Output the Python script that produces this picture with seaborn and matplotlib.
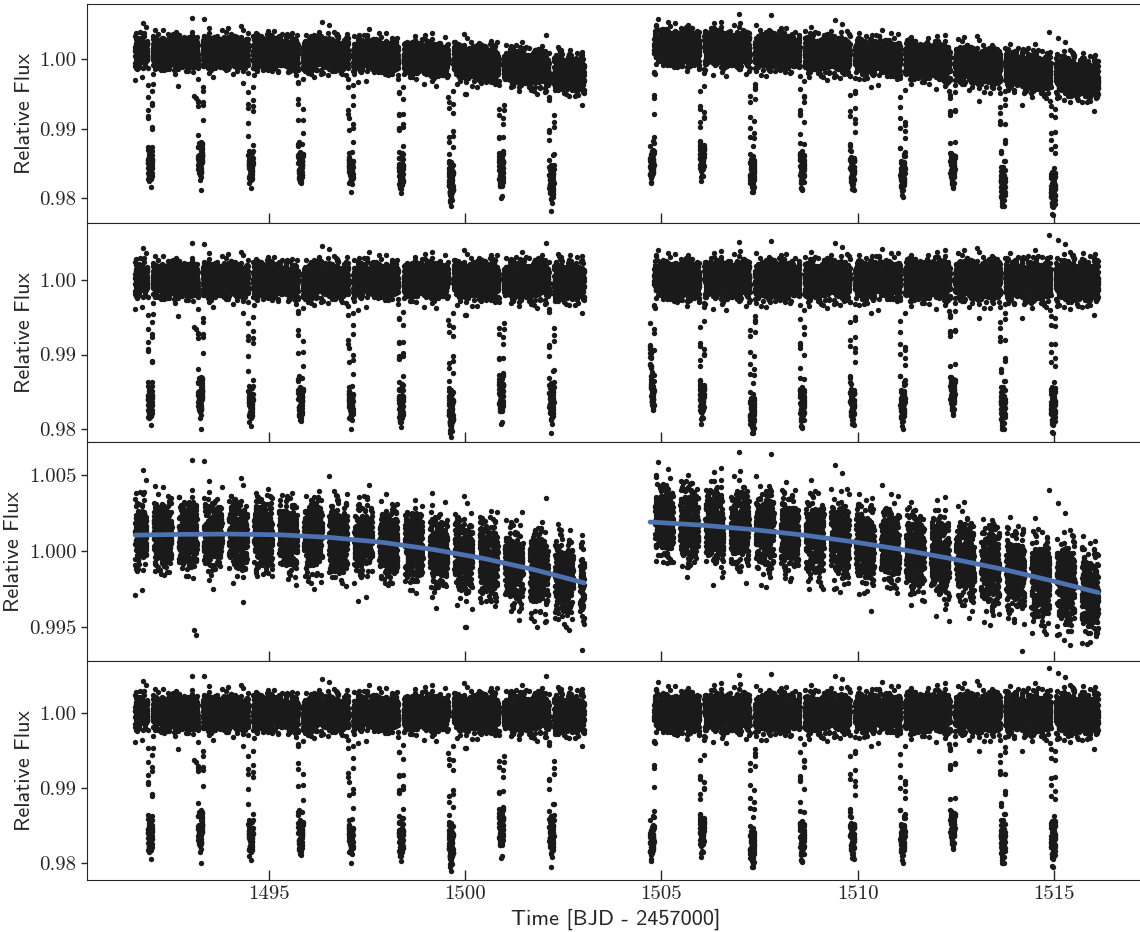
import numpy as np
import pandas as pd
import seaborn as sns
import matplotlib.pyplot as plt
from matplotlib.ticker import FuncFormatter
from statistics import NormalDist

# time coverage of the two orbits (BJD - 2457000)
seg_start = [1491.60, 1504.71]
seg_end = [1503.03, 1516.12]

# mid-transit times
transit_times = [1491.98, 1493.26, 1494.54, 1495.81, 1497.09, 1498.37, 1499.64, 1500.92, 1502.20,
                 1504.75, 1506.03, 1507.31, 1508.58, 1509.86, 1511.14, 1512.41, 1513.69, 1514.97]
# mean in-transit depth of each dip
transit_depths = [0.0167, 0.0160, 0.0165, 0.0165, 0.0165, 0.0166, 0.0178, 0.0157, 0.0165,
                  0.0169, 0.0160, 0.0177, 0.0165, 0.0164, 0.0167, 0.0155, 0.0168, 0.0172]
period = 1.2775
t14 = 0.13      # transit duration [d]
t_ing = 0.012   # ingress [d]
mask_half = 0.09  # half width of the gaps in the zoomed panel

# blue trend (third panel), one list per orbit
trend_t1 = [1491.60, 1492.80, 1494.00, 1495.30, 1496.60, 1497.90, 1499.20, 1500.50, 1501.80, 1503.03]
trend_f1 = [1.00104, 1.00109, 1.00111, 1.00106, 1.00088, 1.00056, 1.00009, 0.99949, 0.99874, 0.99790]
trend_t2 = [1504.71, 1506.00, 1507.30, 1508.60, 1509.85, 1511.10, 1512.40, 1513.70, 1515.00, 1516.12]
trend_f2 = [1.00190, 1.00170, 1.00141, 1.00105, 1.00061, 1.00010, 0.99948, 0.99879, 0.99800, 0.99726]

# baseline the second panel used at the start of orbit 2
p2_fix_t = [1504.71, 1504.75, 1504.80, 1504.90]
p2_fix_f = [0.9934, 0.9995, 1.0015, 1.00188]

# point scatter (1 sigma) along each orbit
sigma_t1 = [1491.60, 1497.30, 1503.03]
sigma_v1 = [0.00108, 0.00110, 0.00122]
sigma_t2 = [1504.71, 1510.40, 1516.12]
sigma_v2 = [0.00120, 0.00120, 0.00130]
tail_frac = 0.015  # share of points in the wider wings
tail_scale = 1.7   # wing width relative to the core

# isolated outliers seen in the zoomed panel
out_t = [1491.80, 1492.05, 1492.70, 1493.05, 1493.36, 1493.10, 1493.15, 1500.00,
         1506.97, 1507.79, 1514.17, 1514.86, 1515.40]
out_f = [1.0053, 0.9964, 0.9962, 1.0060, 1.0059, 0.9948, 0.9945, 0.9950,
         1.0065, 1.0064, 0.9934, 1.0040, 0.9938]

ylims = [(0.97635, 1.00794), (0.9783, 1.0075), (0.99275, 1.00715), (0.9778, 1.00682)]
yticks = [[0.98, 0.99, 1.00], [0.98, 0.99, 1.00], [0.995, 1.000, 1.005], [0.98, 0.99, 1.00]]
ytick_fmt = ['{:.2f}', '{:.2f}', '{:.3f}', '{:.2f}']
xticks = [1495, 1500, 1505, 1510, 1515]

# %%
cad = 2.0 / 1440
t = np.concatenate([np.arange(s, e, cad) for s, e in zip(seg_start, seg_end)])
orbit1 = t < 1504
trend = np.where(orbit1, np.interp(t, trend_t1, trend_f1), np.interp(t, trend_t2, trend_f2))
sig = np.where(orbit1, np.interp(t, sigma_t1, sigma_v1), np.interp(t, sigma_t2, sigma_v2))

# fixed set of quantiles (core + wings), visited in a Weyl-shuffled order
nd = NormalDist()
nq = 4093
n_tail = int(round(nq * tail_frac))
n_core = nq - n_tail
q_core = [nd.inv_cdf((k + 0.5) / n_core) for k in range(n_core)]
q_tail = [tail_scale * nd.inv_cdf((k + 0.5) / n_tail) for k in range(n_tail)]
quant = np.array(q_core + q_tail)
k = np.arange(nq, dtype=float)
order = np.argsort(np.mod(k * k * 0.6180339887 + k * 0.4142135624, 1.0))
quant = quant[order]
noise = sig * quant[np.arange(len(t)) % nq]

dip = np.zeros_like(t)
for tc, d in zip(transit_times, transit_depths):
    x = np.abs(t - tc)
    flat = t14 / 2 - t_ing
    edge = np.clip((t14 / 2 - x) / t_ing, 0, 1)
    limb = np.where(x < flat, 0.95 + 0.08 * (1 - (x / flat) ** 2), 0.95)
    dip += d * edge * limb

raw = trend * (1 - dip) + noise

t_all = np.concatenate([t, out_t])
raw_all = np.concatenate([raw, out_f])
trend_all = np.where(t_all < 1504, np.interp(t_all, trend_t1, trend_f1),
                     np.interp(t_all, trend_t2, trend_f2))
trend_p2 = np.where(t_all < p2_fix_t[-1], np.interp(t_all, p2_fix_t, p2_fix_f), trend_all)
trend_p2 = np.where(t_all < 1504, trend_all, trend_p2)

keep = np.ones_like(t_all, dtype=bool)
for tc in transit_times:
    keep &= np.abs(t_all - tc) > mask_half
    keep &= np.abs(t_all - tc - period / 2) > mask_half

panels = [
    pd.DataFrame({'time': t_all, 'flux': raw_all}),
    pd.DataFrame({'time': t_all, 'flux': raw_all / trend_p2}),
    pd.DataFrame({'time': t_all[keep], 'flux': raw_all[keep]}),
    pd.DataFrame({'time': t_all, 'flux': raw_all / trend_all}),
]

# %%
sns.set_style('ticks')
plt.rcParams['font.family'] = ['cmr10', 'DejaVu Serif']
plt.rcParams['axes.formatter.use_mathtext'] = True
plt.rcParams['axes.unicode_minus'] = False

fig, axes = plt.subplots(4, 1, figsize=(11.4, 9.32), dpi=100, sharex=True)
fig.subplots_adjust(left=0.0763, right=1.004, top=0.9952, bottom=0.0558, hspace=0)

for i, ax in enumerate(axes):
    sns.scatterplot(data=panels[i], x='time', y='flux', ax=ax, color='0.1',
                    s=15, linewidth=0, legend=False, rasterized=True)
    if i == 2:
        sns.lineplot(x=trend_t1, y=trend_f1, ax=ax, color='#4c72b0', lw=3.4, zorder=5)
        sns.lineplot(x=trend_t2, y=trend_f2, ax=ax, color='#4c72b0', lw=3.4, zorder=5)
    ax.set_ylim(*ylims[i])
    ax.set_yticks(yticks[i])
    fmt = ytick_fmt[i]
    ax.yaxis.set_major_formatter(FuncFormatter(lambda v, p, fmt=fmt: fmt.format(v)))
    ax.set_ylabel('Relative Flux', fontfamily='cmss10', fontsize=16)
    ax.set_xlabel('')
    ax.tick_params(axis='x', direction='in', length=7, width=1, top=False, labelsize=15)
    ax.tick_params(axis='y', direction='out', length=4, width=1, labelsize=15)

axes[-1].set_xlim(1490.375, 1517.3)
axes[-1].set_xticks(xticks)
axes[-1].xaxis.set_major_formatter(FuncFormatter(lambda v, p: '{:d}'.format(int(round(v)))))
axes[-1].set_xlabel('Time [BJD - 2457000]', fontfamily='cmss10', fontsize=16)

fig.savefig('out.png', dpi=100)
